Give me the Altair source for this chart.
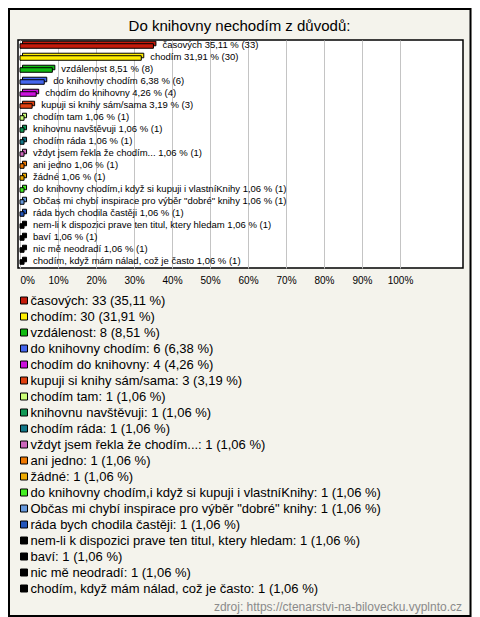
import altair as alt
import pandas as pd

title_text = "Do knihovny nechodím z důvodů:"
source_text = "zdroj: https://ctenarstvi-na-bilovecku.vyplnto.cz"

categories = [
    "časových",
    "chodím",
    "vzdálenost",
    "do knihovny chodím",
    "chodím do knihovny",
    "kupuji si knihy sám/sama",
    "chodím tam",
    "knihovnu navštěvuji",
    "chodím ráda",
    "vždyt jsem řekla že chodím...",
    "ani jedno",
    "žádné",
    "do knihovny chodím,i když si kupuji i vlastníKnihy",
    "Občas mi chybí inspirace pro výběr \"dobré\" knihy",
    "ráda bych chodila častěji",
    "nem-li k dispozici prave ten titul, ktery hledam",
    "baví",
    "nic mě neodradí",
    "chodím, když mám nálad, což je často",
]
counts = [33, 30, 8, 6, 4, 3, 1, 1, 1, 1, 1, 1, 1, 1, 1, 1, 1, 1, 1]
percents = [35.11, 31.91, 8.51, 6.38, 4.26, 3.19, 1.06, 1.06, 1.06, 1.06,
            1.06, 1.06, 1.06, 1.06, 1.06, 1.06, 1.06, 1.06, 1.06]
colors = [
    "#c41a0a", "#ffee00", "#11bb11", "#4466ee", "#cc11dd", "#e04010",
    "#ccff77", "#119955", "#117788", "#cc66bb", "#ee7700", "#eeaa00",
    "#44ee22", "#6699dd", "#2255bb", "#000000", "#000000", "#000000", "#000000",
]
tick_values = [0, 10, 20, 30, 40, 50, 60, 70, 80, 90, 100]


def fmt(p):
    return f"{p:.2f}".replace(".", ",")


bar_labels = [f"{c} {fmt(p)} % ({n})" for c, p, n in zip(categories, percents, counts)]
legend_labels = [f"{c}: {n} ({fmt(p)} %)" for c, p, n in zip(categories, percents, counts)]

df = pd.DataFrame({
    "cat": categories,
    "pct": percents,
    "count": counts,
    "bar_label": bar_labels,
    "legend_label": legend_labels,
})

FONT = "Liberation Sans"
W = 445
H = 228

y_enc = alt.Y(
    "legend_label:N",
    sort=legend_labels,
    axis=None,
    scale=alt.Scale(paddingInner=0.62, paddingOuter=0.31),
)
x_enc = alt.X(
    "pct:Q",
    scale=alt.Scale(domain=[-0.53, 116.58], nice=False, zero=False),
    axis=alt.Axis(
        values=tick_values,
        labelExpr="datum.value + '%'",
        grid=True,
        gridColor="#c4c4c4",
        gridWidth=1,
        ticks=False,
        domain=False,
        labelFontSize=10,
        labelFont=FONT,
        labelColor="#000000",
        labelPadding=7,
        labelAlign={"condition": {"test": "datum.value == 0", "value": "left"}, "value": "center"},
        title=None,
    ),
)
color_enc = alt.Color(
    "legend_label:N",
    scale=alt.Scale(domain=legend_labels, range=colors),
    legend=alt.Legend(
        orient="none",
        legendX=-0.5,
        legendY=254,
        direction="vertical",
        title=None,
        symbolType="square",
        symbolSize=49,
        symbolStrokeColor="black",
        symbolStrokeWidth=1,
        symbolOpacity=1,
        labelFontSize=13,
        labelFont=FONT,
        labelColor="#000000",
        labelLimit=600,
        labelOffset=alt.ExprRef("0"),
        rowPadding=2,
        padding=0,
    ),
)

base = alt.Chart(df)

back = base.mark_bar(
    stroke="black", strokeWidth=1, xOffset=2.5, x2Offset=2.5, yOffset=-2.5, y2Offset=-2.5, opacity=1
).encode(x=x_enc, x2=alt.datum(0), y=y_enc, color=color_enc)

front = base.mark_bar(stroke="black", strokeWidth=1, opacity=1).encode(
    x=x_enc, x2=alt.datum(0), y=y_enc, color=color_enc
)

labels = base.mark_text(
    align="left", baseline="middle", dx=9, dy=-1, fontSize=9.5, font=FONT, color="#000000"
).encode(x="pct:Q", y=y_enc, text="bar_label:N")

title = alt.Chart(pd.DataFrame({"t": [title_text]})).mark_text(
    align="center", baseline="middle", fontSize=15, font=FONT, color="#000000"
).encode(x=alt.value(221.5), y=alt.value(-14), text="t:N")

source = alt.Chart(pd.DataFrame({"t": [source_text]})).mark_text(
    align="right", baseline="middle", fontSize=12, font=FONT, color="#8a8a8a"
).encode(x=alt.value(444), y=alt.value(567), text="t:N")

frame = alt.Chart(pd.DataFrame({"a": [0]})).mark_rect(
    filled=False, stroke="black", strokeWidth=2
).encode(x=alt.value(-9), x2=alt.value(452.5), y=alt.value(-31), y2=alt.value(576))

chart = alt.layer(frame, back, front, labels, title, source).properties(
    width=W, height=H, padding=0, background="#f4f3ec"
).configure_view(
    fill="white", stroke="black", strokeWidth=1.5
)

chart.save("out.html", embed_options={"renderer": "svg", "actions": False})
